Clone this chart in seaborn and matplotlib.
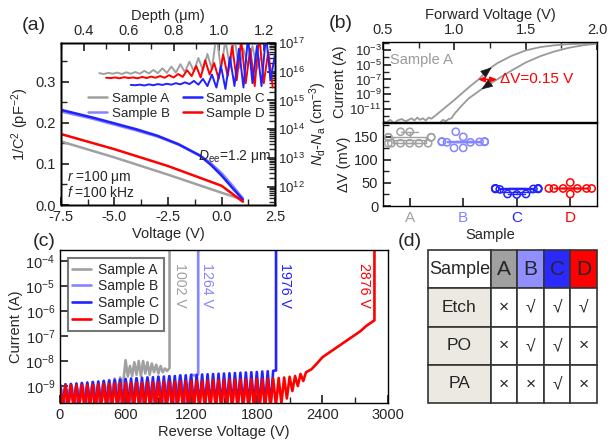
import numpy as np
import pandas as pd
import matplotlib
matplotlib.use('Agg')
import matplotlib.pyplot as plt
import matplotlib.ticker as mticker
import seaborn as sns

sns.set_theme(style="ticks")
plt.rcParams['font.family'] = ['Liberation Sans', 'DejaVu Sans']
plt.rcParams['mathtext.fontset'] = 'custom'
plt.rcParams['mathtext.rm'] = 'Liberation Sans'
plt.rcParams['mathtext.it'] = 'Liberation Sans:italic'
plt.rcParams['mathtext.bf'] = 'Liberation Sans:bold'
plt.rcParams['axes.unicode_minus'] = False
plt.rcParams['xtick.direction'] = 'in'
plt.rcParams['ytick.direction'] = 'in'
plt.rcParams['axes.edgecolor'] = 'black'
plt.rcParams['axes.linewidth'] = 1.0

# ---- colours / names
samples = ['A', 'B', 'C', 'D']
labels = ['Sample A', 'Sample B', 'Sample C', 'Sample D']
colors = {'A': '#a0a0a0', 'B': '#8585ff', 'C': '#2222ff', 'D': '#ff0000'}

# ---- (a) 1/C^2 vs voltage
cv_volt_AD = [-7.5, -5.0, -2.5, 0.0, 1.0]
cv_A = [0.155, 0.116, 0.074, 0.030, 0.013]
cv_D = [0.173, 0.136, 0.095, 0.047, 0.008]
cv_volt_BC = [-7.5, -6.0, -5.0, -4.0, -3.0, -2.0, -1.0, -0.5, 0.0, 0.5, 1.0]
cv_B = [0.228, 0.210, 0.196, 0.182, 0.167, 0.147, 0.121, 0.102, 0.078, 0.048, 0.016]
cv_C = [0.232, 0.213, 0.199, 0.185, 0.169, 0.148, 0.120, 0.098, 0.072, 0.042, 0.013]

# ---- (a) doping profile (log10 Nd-Na) vs depth
dep_A = [0.47, 0.49, 0.51, 0.53, 0.55, 0.57, 0.59, 0.61, 0.63, 0.65, 0.67, 0.69, 0.71,
         0.73, 0.75, 0.77, 0.79, 0.81, 0.83, 0.85, 0.87, 0.89, 0.91, 0.93, 0.95, 0.97,
         0.99, 1.01, 1.03, 1.05, 1.07, 1.09, 1.11, 1.13, 1.15, 1.17, 1.19]
logN_A = [15.95, 15.92, 15.96, 15.93, 15.97, 15.92, 15.98, 15.93, 15.99, 15.93, 16.03, 15.94, 16.06,
          15.95, 16.12, 15.96, 16.18, 15.97, 16.26, 15.99, 16.35, 16.02, 16.48, 16.05, 16.62, 16.08,
          17.3, 16.1, 17.1, 16.15, 17.2, 16.12, 16.8, 16.2, 16.9, 16.1, 16.6]
dep_C = [0.61, 0.63, 0.65, 0.67, 0.69, 0.71, 0.73, 0.75, 0.77, 0.79, 0.81, 0.83, 0.85,
         0.87, 0.89, 0.91, 0.93, 0.95, 0.97, 0.99, 1.01, 1.03, 1.05, 1.07, 1.09, 1.11,
         1.13, 1.15, 1.17, 1.19, 1.21, 1.23, 1.25]
logN_C = [15.54, 15.53, 15.55, 15.52, 15.56, 15.53, 15.57, 15.54, 15.58, 15.55, 15.60, 15.56, 15.63,
          15.57, 15.68, 15.55, 15.75, 15.5, 15.9, 15.45, 16.2, 15.4, 16.5, 15.5, 16.8, 15.45,
          17.2, 15.6, 16.9, 15.5, 17.3, 15.7, 16.6]
dep_D = [0.50, 0.52, 0.54, 0.56, 0.58, 0.60, 0.62, 0.64, 0.66, 0.68, 0.70, 0.72, 0.74,
         0.76, 0.78, 0.80, 0.82, 0.84, 0.86, 0.88, 0.90, 0.92, 0.94, 0.96, 0.98, 1.00,
         1.02, 1.04, 1.06, 1.08, 1.10, 1.12, 1.14, 1.16, 1.18, 1.20, 1.22, 1.24]
logN_D = [15.79, 15.78, 15.80, 15.77, 15.81, 15.78, 15.80, 15.77, 15.82, 15.78, 15.83, 15.79, 15.85,
          15.79, 15.88, 15.80, 15.92, 15.82, 16.05, 15.85, 16.2, 15.8, 16.4, 15.9, 16.3, 15.75,
          16.6, 15.85, 16.9, 15.7, 17.1, 15.6, 16.8, 15.5, 17.3, 15.6, 16.7, 15.45]

# ---- (b) forward I-V, two sweeps (log10 current)
fw_up_v = [0.50, 0.52, 0.55, 0.58, 0.60, 0.63, 0.66, 0.68, 0.70, 0.72, 0.74, 0.76, 0.78, 0.80, 0.82,
           0.84, 0.90, 1.00, 1.10, 1.17, 1.20, 1.25, 1.30, 1.40, 1.50, 1.60, 1.70, 1.80, 1.90, 2.00]
fw_up_logI = [-12.6, -12.9, -12.5, -13.0, -12.6, -12.4, -12.7, -12.5, -12.3, -12.6, -12.2, -12.5, -12.3, -12.6, -12.2,
              -12.35, -11.4, -9.8, -8.1, -7.0, -6.4, -5.5, -4.8, -3.8, -3.05, -2.6, -2.35, -2.2, -2.12, -2.08]
fw_dn_v = [0.90, 0.92, 0.94, 0.96, 0.98, 1.00, 1.05, 1.10, 1.20, 1.30, 1.40, 1.50, 1.60, 1.70, 1.80, 1.90, 2.00]
fw_dn_logI = [-12.9, -12.5, -12.7, -12.4, -12.3, -11.7, -10.6, -9.6, -8.2, -7.0, -5.8, -4.7, -3.85, -3.2, -2.7, -2.35, -2.12]

# ---- (b) hysteresis width per device (mV)
dv_A = [136, 136, 136, 136, 136, 136, 149, 149, 149, 149, 161, 161]
dv_B = [161, 150, 140, 140, 139, 139, 139, 138, 138, 126, 126]
dv_C = [38, 38, 38, 38, 37, 37, 37, 36, 26, 26, 25]
dv_D = [51, 38, 38, 38, 38, 38, 38, 26]

# ---- (c) reverse leakage (log10 current)
rv_A = [0, 25, 50, 75, 100, 125, 150, 175, 200, 225, 250, 275, 300, 325, 350, 375, 400, 425, 450, 475,
        500, 525, 550, 575, 600, 620, 640, 660, 680, 700, 720, 740, 760, 780, 800, 820, 840, 860, 880,
        900, 920, 940, 960, 980, 1002, 1002]
rI_A = [-8.95, -9.6, -8.94, -9.6, -8.93, -9.6, -8.92, -9.6, -8.9, -9.6, -8.88, -9.6, -8.86, -9.5, -8.84,
        -9.5, -8.8, -9.4, -8.76, -9.3, -8.7, -9.2, -8.66, -9.0, -7.97, -8.62, -8.2, -8.6, -8.05, -8.55,
        -8.0, -8.6, -8.0, -8.5, -8.05, -8.55, -8.1, -8.45, -8.15, -8.5, -8.2, -8.45, -8.3, -8.4, -8.28, -3.0]
rv_B = [0, 50, 100, 150, 200, 250, 300, 350, 400, 450, 500, 550, 600, 650, 700, 750, 800, 850, 900, 950,
        1000, 1050, 1100, 1150, 1200, 1250, 1264, 1264]
rI_B = [-8.95, -9.7, -8.92, -9.7, -8.88, -9.7, -8.84, -9.7, -8.8, -9.7, -8.76, -9.7, -8.72, -9.7, -8.69,
        -9.7, -8.66, -9.7, -8.63, -9.7, -8.6, -9.7, -8.57, -9.7, -8.54, -8.6, -8.52, -3.0]
rv_C = [0, 25, 50, 75, 100, 125, 150, 175, 200, 225, 250, 275, 300, 325, 350, 375, 400, 425, 450, 475,
        500, 525, 550, 575, 600, 625, 650, 675, 700, 725, 750, 775, 800, 825, 850, 875, 900, 925, 950, 975,
        1000, 1025, 1050, 1075, 1100, 1125, 1150, 1175, 1200, 1225, 1250, 1275, 1300, 1325, 1350, 1375,
        1400, 1425, 1450, 1475, 1500, 1525, 1550, 1575, 1600, 1625, 1650, 1675, 1700, 1725, 1750, 1775,
        1800, 1825, 1850, 1875, 1900, 1925, 1950, 1976, 1976]
rI_C = [-8.95, -9.8, -8.93, -9.8, -8.92, -9.8, -8.9, -9.8, -8.88, -9.8, -8.86, -9.8, -8.84, -9.8, -8.82,
        -9.8, -8.8, -9.8, -8.78, -9.8, -8.76, -9.8, -8.74, -9.8, -8.72, -9.8, -8.7, -9.8, -8.69, -9.8,
        -8.67, -9.8, -8.66, -9.8, -8.65, -9.8, -8.63, -9.8, -8.62, -9.8, -8.61, -9.8, -8.6, -9.8, -8.58,
        -9.8, -8.57, -9.8, -8.56, -9.8, -8.55, -9.8, -8.54, -9.8, -8.53, -9.8, -8.52, -9.8, -8.51, -9.8,
        -8.5, -9.8, -8.49, -9.8, -8.48, -9.8, -8.47, -9.8, -8.46, -9.8, -8.45, -9.8, -8.44, -9.8, -8.42,
        -9.8, -8.41, -9.8, -8.39, -8.38, -3.0]
rv_D = [0, 25, 50, 75, 100, 125, 150, 175, 200, 225, 250, 275, 300, 325, 350, 375, 400, 425, 450, 475,
        500, 525, 550, 575, 600, 625, 650, 675, 700, 725, 750, 775, 800, 825, 850, 875, 900, 925, 950, 975,
        1000, 1025, 1050, 1075, 1100, 1125, 1150, 1175, 1200, 1225, 1250, 1275, 1300, 1325, 1350, 1375,
        1400, 1425, 1450, 1475, 1500, 1525, 1550, 1575, 1600, 1625, 1650, 1675, 1700, 1725, 1750, 1775,
        1800, 1825, 1850, 1875, 1900, 1925, 1950, 1975, 2000, 2025, 2050, 2075, 2100,
        2125, 2150, 2175, 2200, 2225, 2250, 2300, 2350, 2400, 2450, 2500, 2550, 2600, 2650, 2700,
        2750, 2800, 2850, 2876, 2876]
rI_D = [-8.97, -9.9, -8.98, -9.9, -8.96, -9.9, -8.97, -9.9, -8.95, -9.9, -8.96, -9.9, -8.94, -9.9, -8.93,
        -9.9, -8.92, -9.9, -8.91, -9.9, -8.9, -9.9, -8.89, -9.9, -8.87, -9.9, -8.88, -9.9, -8.86, -9.9,
        -8.86, -9.9, -8.85, -9.9, -8.85, -9.9, -8.84, -9.9, -8.83, -9.9, -8.83, -9.9, -8.82, -9.9, -8.81,
        -9.9, -8.81, -9.9, -8.8, -9.9, -8.79, -9.9, -8.79, -9.9, -8.78, -9.9, -8.77, -9.9, -8.77, -9.9,
        -8.76, -9.9, -8.76, -9.9, -8.75, -9.9, -8.74, -9.9, -8.74, -9.9, -8.73, -9.9, -8.73, -9.9, -8.72,
        -9.9, -8.71, -9.85, -8.7, -9.8, -8.68, -9.7, -8.66, -9.5, -8.63,
        -9.2, -8.6, -9.0, -8.52, -8.8, -8.45, -8.33, -8.1, -7.85, -7.7, -7.55, -7.4, -7.25, -7.1, -6.95,
        -6.8, -6.6, -6.45, -6.37, -3.0]
breakdown = {'A': 1002, 'B': 1264, 'C': 1976, 'D': 2876}

# ---- (d) process table
tbl_rows = ['Etch', 'PO', 'PA']
tbl_marks = [['×', '√', '√', '√'],
             ['×', '√', '√', '×'],
             ['×', '×', '√', '×']]

W, H = 616, 447
fig = plt.figure(figsize=(W / 100, H / 100), dpi=100)


def px_axes(l, t, r, b):
    return fig.add_axes([l / W, 1 - b / H, (r - l) / W, (b - t) / H])


TICK = 10.5
LAB = 10.5

# ================= (a) =================
ax_a = px_axes(61, 43, 275, 205)
sns.lineplot(x=cv_volt_AD, y=cv_A, color=colors['A'], lw=1.8, label='Sample A', ax=ax_a)
sns.lineplot(x=cv_volt_BC, y=cv_B, color=colors['B'], lw=1.8, label='Sample B', ax=ax_a)
sns.lineplot(x=cv_volt_BC, y=cv_C, color=colors['C'], lw=1.8, label='Sample C', ax=ax_a)
sns.lineplot(x=cv_volt_AD, y=cv_D, color=colors['D'], lw=1.8, label='Sample D', ax=ax_a)
ax_a.set_xlim(-7.5, 2.5)
ax_a.set_ylim(0, 0.395)
ax_a.set_xticks([-7.5, -5.0, -2.5, 0.0, 2.5])
ax_a.set_yticks([0.0, 0.1, 0.2, 0.3])
ax_a.xaxis.set_minor_locator(mticker.AutoMinorLocator(2))
ax_a.yaxis.set_minor_locator(mticker.AutoMinorLocator(2))
ax_a.set_xlabel('Voltage (V)', fontsize=LAB, labelpad=2)
ax_a.set_ylabel('1/C$^2$ (pF$^{-2}$)', fontsize=LAB, labelpad=3)
ax_a.tick_params(labelsize=TICK, which='both')
ax_a.legend(loc='center', bbox_to_anchor=(0.54, 0.61), ncol=2, frameon=False, fontsize=9.6,
            handlelength=1.4, columnspacing=1.0, handletextpad=0.35, labelspacing=0.2,
            borderpad=0.1)
ax_a.text(2.3, 0.118, '$D_{\\mathrm{ee}}$=1.2 μm', ha='right', va='center', fontsize=10)
ax_a.text(-7.2, 0.067, '$r$ =100 μm', ha='left', va='center', fontsize=10)
ax_a.text(-7.2, 0.030, '$f$ =100 kHz', ha='left', va='center', fontsize=10)

ax_r = ax_a.twinx()
ax_r.set_yscale('log')
ax_r.set_ylim(10 ** 11.36, 1e17)
ax_r.yaxis.set_major_locator(mticker.LogLocator(base=10, numticks=15))
ax_r.yaxis.set_minor_formatter(mticker.NullFormatter())
ax_r.set_ylabel('$N_{\\mathrm{d}}$-$N_{\\mathrm{a}}$ (cm$^{-3}$)', fontsize=LAB, labelpad=2)
ax_r.tick_params(labelsize=9.5, which='both', pad=2)
ax_t = ax_r.twiny()
for dep, logn, s in [(dep_A, logN_A, 'A'), (dep_D, logN_D, 'D'), (dep_C, logN_C, 'C')]:
    sns.lineplot(x=dep, y=10 ** np.array(logn), color=colors[s], lw=1.4, sort=False,
                 estimator=None, ax=ax_t)
ax_t.set_xlim(0.3, 1.25)
ax_t.set_xticks([0.4, 0.6, 0.8, 1.0, 1.2])
ax_t.xaxis.set_minor_locator(mticker.MultipleLocator(0.1))
ax_t.set_xlabel('Depth (μm)', fontsize=LAB, labelpad=3)
ax_t.tick_params(labelsize=TICK, which='both')
ax_r.set_ylim(10 ** 11.36, 1e17)

# ================= (b) top =================
ax_bt = px_axes(383, 42, 597, 122)
ax_bt.set_yscale('log')
sns.lineplot(x=fw_up_v, y=10 ** np.array(fw_up_logI), color='#999999', lw=1.3, sort=False,
             estimator=None, ax=ax_bt)
sns.lineplot(x=fw_dn_v, y=10 ** np.array(fw_dn_logI), color='#999999', lw=1.3, sort=False,
             estimator=None, ax=ax_bt)
ax_bt.set_xlim(0.5, 2.0)
ax_bt.set_ylim(10 ** -12.8, 10 ** -1.9)
ax_bt.xaxis.tick_top()
ax_bt.xaxis.set_label_position('top')
ax_bt.set_xticks([0.5, 1.0, 1.5, 2.0])
ax_bt.xaxis.set_minor_locator(mticker.AutoMinorLocator(2))
ax_bt.yaxis.set_major_locator(mticker.FixedLocator([1e-3, 1e-5, 1e-7, 1e-9, 1e-11]))
ax_bt.yaxis.set_major_formatter(mticker.LogFormatterSciNotation())
ax_bt.yaxis.set_minor_locator(mticker.FixedLocator([1e-2, 1e-4, 1e-6, 1e-8, 1e-10, 1e-12]))
ax_bt.yaxis.set_minor_formatter(mticker.NullFormatter())
ax_bt.set_xlabel('Forward Voltage (V)', fontsize=LAB, labelpad=3)
ax_bt.set_ylabel('Current (A)', fontsize=LAB, labelpad=2)
ax_bt.tick_params(labelsize=TICK, which='both')
ax_bt.tick_params(axis='y', labelsize=9.5, pad=1)
ax_bt.text(0.55, 10 ** -4.4, 'Sample A', color='#999999', fontsize=10.5, va='center')
arrow_head = dict(arrowstyle='-|>,head_length=0.9,head_width=0.35', color='k', lw=0.5,
                  mutation_scale=8, shrinkA=0, shrinkB=0)
ax_bt.annotate('', xy=(1.262, 10 ** -5.35), xytext=(1.245, 10 ** -5.62), arrowprops=arrow_head)
ax_bt.annotate('', xy=(1.19, 10 ** -8.35), xytext=(1.207, 10 ** -8.12), arrowprops=arrow_head)
ax_bt.annotate('', xy=(1.165, 1e-7), xytext=(1.30, 1e-7),
               arrowprops=dict(arrowstyle='<|-|>,head_length=0.5,head_width=0.2', color='red', lw=1,
                               mutation_scale=8, shrinkA=0, shrinkB=0))
ax_bt.text(1.32, 1e-7, 'ΔV=0.15 V', color='red', fontsize=11, va='center')

# ================= (b) bottom =================
ax_bb = px_axes(383, 123, 597, 206)
df_dv = pd.DataFrame({
    'sample': ['A'] * len(dv_A) + ['B'] * len(dv_B) + ['C'] * len(dv_C) + ['D'] * len(dv_D),
    'dv': dv_A + dv_B + dv_C + dv_D})
sns.boxplot(data=df_dv, x='sample', y='dv', hue='sample', palette=colors, fill=False, width=0.62,
            showfliers=False, linewidth=1.0, legend=False, ax=ax_bb, order=samples)
sns.swarmplot(data=df_dv, x='sample', y='dv', hue='sample', palette=colors, size=5.2,
              legend=False, ax=ax_bb, order=samples)
for coll in ax_bb.collections:
    fc = coll.get_facecolors()
    coll.set_edgecolors(fc)
    coll.set_facecolors('none')
    coll.set_linewidth(1.1)
ax_bb.set_ylim(0, 180)
ax_bb.set_yticks([0, 50, 100, 150])
ax_bb.yaxis.set_minor_locator(mticker.MultipleLocator(25))
ax_bb.set_xlabel('Sample', fontsize=LAB, labelpad=2)
ax_bb.set_ylabel('ΔV (mV)', fontsize=LAB, labelpad=2)
ax_bb.tick_params(labelsize=TICK, which='both')
ax_bb.tick_params(axis='x', labelsize=11)
for lbl, s in zip(ax_bb.get_xticklabels(), samples):
    lbl.set_color(colors[s])

# ================= (c) =================
ax_c = px_axes(60, 250, 388, 403)
ax_c.set_yscale('log')
for rv, ri, s, lab in [(rv_A, rI_A, 'A', 'Sample A'), (rv_B, rI_B, 'B', 'Sample B'),
                       (rv_C, rI_C, 'C', 'Sample C'), (rv_D, rI_D, 'D', 'Sample D')]:
    sns.lineplot(x=rv, y=10 ** np.array(ri), color=colors[s], lw=1.9, sort=False,
                 estimator=None, label=lab, ax=ax_c)
ax_c.set_xlim(0, 3000)
ax_c.set_ylim(10 ** -9.68, 10 ** -3.56)
ax_c.set_xticks([0, 600, 1200, 1800, 2400, 3000])
ax_c.xaxis.set_minor_locator(mticker.MultipleLocator(300))
ax_c.yaxis.set_major_locator(mticker.LogLocator(base=10, numticks=12))
ax_c.set_xlabel('Reverse Voltage (V)', fontsize=LAB, labelpad=2)
ax_c.set_ylabel('Current (A)', fontsize=LAB, labelpad=2)
ax_c.tick_params(labelsize=TICK, which='both')
leg = ax_c.legend(loc='upper left', bbox_to_anchor=(0.024, 0.945), fontsize=10, fancybox=False,
                  handlelength=1.4, handletextpad=0.5, labelspacing=0.2, borderpad=0.3,
                  borderaxespad=0)
leg.get_frame().set_edgecolor('#555555')
leg.get_frame().set_linewidth(1.5)
for s, xoff in [('A', 95), ('B', 77), ('C', 82), ('D', -100)]:
    ax_c.text(breakdown[s] + xoff, 10 ** -4.1, f'{breakdown[s]} V', color=colors[s], rotation=270,
              ha='center', va='top', fontsize=10.2)

# ================= (d) =================
ax_d = px_axes(428, 250, 597, 403)
ax_d.axis('off')
cell_text = [['Sample'] + samples] + [[r] + m for r, m in zip(tbl_rows, tbl_marks)]
beige = '#ebe9e1'
cell_col = [['white'] + [colors[s] for s in samples]] + [[beige] + ['white'] * 4 for _ in tbl_rows]
cell_col[0][1] = '#a0a0a0'
cell_col[0][2] = '#8f8fff'
cell_col[0][3] = '#2a2aff'
tbl = ax_d.table(cellText=cell_text, cellColours=cell_col, cellLoc='center', bbox=[0, 0, 1, 1],
                 colWidths=[0.373, 0.157, 0.157, 0.157, 0.157])
tbl.auto_set_font_size(False)
for (r, c), cell in tbl.get_celld().items():
    cell.set_edgecolor('#333333')
    cell.set_linewidth(1.2)
    if r == 0:
        cell.get_text().set_fontsize(13 if c == 0 else 15)
    else:
        cell.get_text().set_fontsize(12.5)

# panel labels
fig.text(34 / W, 1 - 25 / H, '(a)', fontsize=14, ha='center', va='center')
fig.text(341 / W, 1 - 24 / H, '(b)', fontsize=14, ha='center', va='center')
fig.text(44 / W, 1 - 242 / H, '(c)', fontsize=14, ha='center', va='center')
fig.text(410 / W, 1 - 242 / H, '(d)', fontsize=14, ha='center', va='center')

fig.savefig('out.png', dpi=100)
